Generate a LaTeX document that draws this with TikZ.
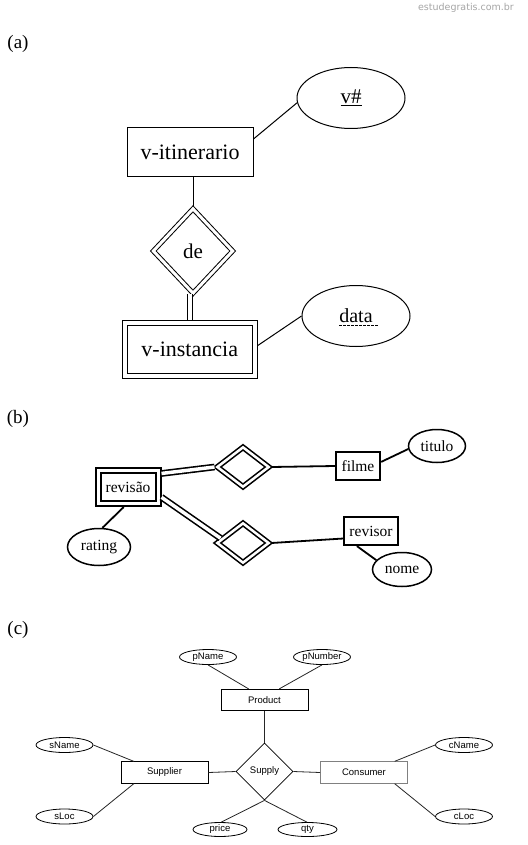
\documentclass[tikz,border=0pt]{standalone}
\usepackage{fontspec}
\setmainfont{Liberation Serif}
\newfontfamily\arialf{Liberation Sans}
\newfontfamily\dejavuf{DejaVu Sans}
\usetikzlibrary{shapes.geometric}
\begin{document}
\begin{tikzpicture}[x=1pt,y=-1pt,
  lbl/.style={font=\fontsize{19}{22}\selectfont},
  % (a)
  ent1/.style={draw, line width=1pt, minimum width=126pt, minimum height=49pt, inner sep=0pt, font=\fontsize{22}{26}\selectfont},
  attr1/.style={ellipse, draw, line width=1pt, minimum width=108pt, minimum height=61pt, inner sep=0pt, font=\fontsize{21}{25}\selectfont},
  rel1/.style={diamond, draw, double, double distance=3pt, line width=1pt, minimum width=81pt, minimum height=86pt, inner sep=0pt, outer sep=2pt, font=\fontsize{21}{25}\selectfont},
  wk1/.style={draw, double, double distance=4pt, line width=1pt, minimum width=129.5pt, minimum height=53.5pt, inner sep=0pt, outer sep=3pt, font=\fontsize{22}{26}\selectfont},
  c1/.style={line width=1pt},
  % (b)
  wk2/.style={draw, double, double distance=3pt, line width=2pt, minimum width=60pt, minimum height=33pt, inner sep=0pt, outer sep=3.5pt, font=\fontsize{15.5}{18}\selectfont},
  en2/.style={draw, line width=2.2pt, minimum height=28pt, inner sep=0pt, font=\fontsize{15.5}{18}\selectfont},
  at2/.style={ellipse, draw, line width=1.5pt, inner sep=0pt, font=\fontsize{15.5}{18}\selectfont},
  rl2/.style={diamond, draw, double, double distance=2.5pt, line width=1.6pt, minimum width=53pt, minimum height=41pt, inner sep=0pt, outer sep=2pt},
  c2/.style={line width=1.8pt},
  dc2/.style={line width=1.6pt, double, double distance=3.5pt},
  % (c)
  en3/.style={draw, line width=0.8pt, minimum width=87pt, minimum height=21.5pt, inner sep=0pt, font=\arialf\fontsize{9.5}{11}\selectfont},
  at3/.style={ellipse, draw, line width=0.8pt, minimum width=57pt, minimum height=15pt, inner sep=0pt, font=\arialf\fontsize{9.5}{11}\selectfont},
  rl3/.style={diamond, draw, line width=0.8pt, minimum width=57pt, minimum height=57pt, inner sep=0pt, font=\arialf\fontsize{9.5}{11}\selectfont},
  c3/.style={line width=0.8pt, draw=black!85}
]
\useasboundingbox[fill=white] (0,0) rectangle (527,845);

\node[font=\dejavuf\fontsize{9.5}{11}\selectfont, text=black!35] (wm) at (466,8) {estudegratis.com.br};

% ---------------- (a)
\node[lbl] (la) at (18,44) {(a)};
\node[ent1] (vit) at (190,152.5) {v-itinerario};
\node[attr1] (vnum) at (351,98) {\underline{v\#}};
\node[rel1] (de) at (193,251) {de};
\node[wk1] (vinst) at (189.75,349.25) {v-instancia};
\node[attr1, font=\fontsize{20}{24}\selectfont] (data) at (356,316) {data};
\draw[line width=0.9pt, dash pattern=on 2.5pt off 1.5pt] ([xshift=-17pt,yshift=-3pt]data.base) -- ([xshift=23pt,yshift=-3pt]data.base);

\draw[c1] (vit.12) -- (vnum.185);
\draw[c1] (de.north) -- (de.north |- vit.south);
\draw[c1, double, double distance=3.5pt] (vinst.north) -- ([yshift=2pt]vinst.north |- de.south);
\draw[c1] (vinst.3) -- (data.west);

% ---------------- (b)
\node[lbl] (lb) at (18,419) {(b)};
\node[wk2] (rev) at (128,487) {revisão};
\node[at2, minimum width=63pt, minimum height=37pt] (rating) at (99,547) {rating};
\node[rl2] (d1) at (243,467) {};
\node[rl2] (d2) at (243,543) {};
\node[en2, minimum width=44pt] (filme) at (358,466) {filme};
\node[at2, minimum width=57pt, minimum height=33pt] (titulo) at (437,446) {titulo};
\node[en2, minimum width=54pt] (revisor) at (371,531) {revisor};
\node[at2, minimum width=59pt, minimum height=34pt] (nome) at (402,569.5) {nome};

\draw[c2] (rev.258) -- (rating.80);
\draw[dc2] (rev.22) -- (d1.west);
\draw[dc2] (rev.-17) -- (d2.168);
\draw[c2] (d1.east) -- (filme.west);
\draw[c2] (filme.10) -- (titulo.186);
\draw[c2] (d2.east) -- (revisor.195);
\draw[c2] (revisor.227) -- (nome.160);

% ---------------- (c)
\node[lbl] (lc) at (18,630) {(c)};
\node[at3] (pname) at (208,657) {pName};
\node[at3] (pnum) at (322,657) {pNumber};
\node[en3] (product) at (264.5,700) {Product};
\node[rl3] (supply) at (264.5,771.5) {Supply};
\node[en3] (supplier) at (164.5,772.5) {Supplier};
\node[en3, draw=black!50] (consumer) at (364,772.5) {Consumer};
\node[at3] (sname) at (64.5,745) {sName};
\node[at3] (sloc) at (64.5,816.5) {sLoc};
\node[at3] (cname) at (464,745) {cName};
\node[at3] (cloc) at (464,816.5) {cLoc};
\node[at3, minimum width=54pt, minimum height=14pt] (price) at (220,829.5) {price};
\node[at3, minimum width=59pt, minimum height=14pt] (qty) at (307.5,829.5) {qty};

\draw[c3] (pname.south) -- (product.145);
\draw[c3] (pnum.south) -- (product.37);
\draw[c3] (product.south) -- (supply.north);
\draw[c3] (supplier.east) -- (supply.west);
\draw[c3] (supply.east) -- (consumer.west);
\draw[c3] (sname.east) -- (supplier.160);
\draw[c3] (sloc.east) -- (supplier.200);
\draw[c3] (cname.west) -- (consumer.20);
\draw[c3] (cloc.west) -- (consumer.-20);
\draw[c3] (supply.south) -- (price.80);
\draw[c3] (supply.south) -- (qty.95);
\end{tikzpicture}
\end{document}
